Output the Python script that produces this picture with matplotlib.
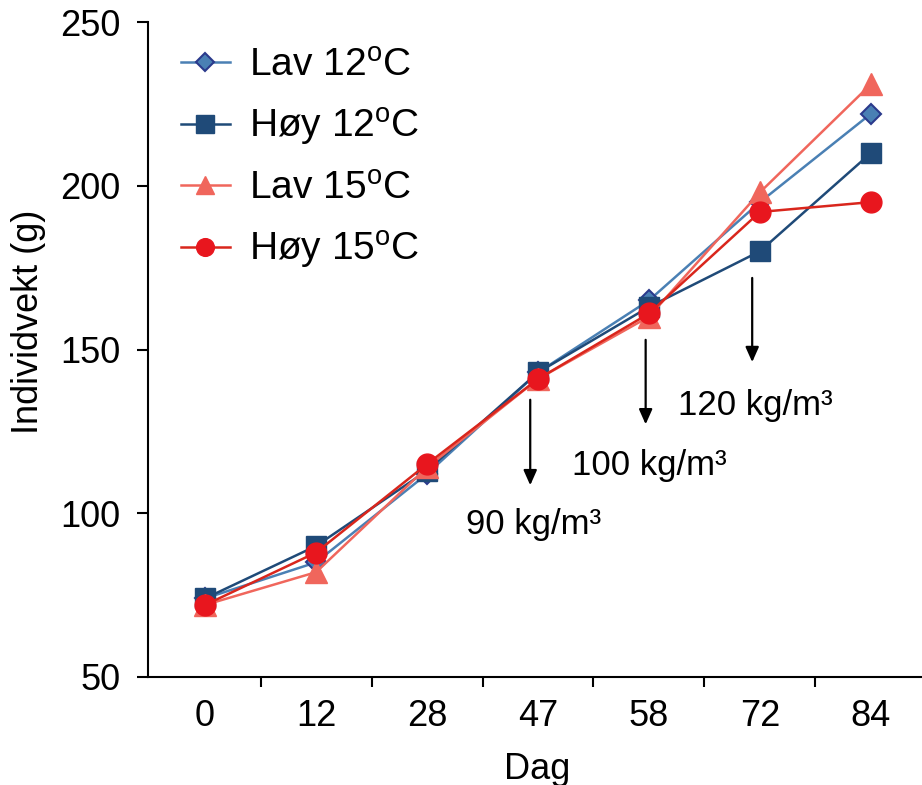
import numpy as np
import matplotlib
matplotlib.use("Agg")
import matplotlib.pyplot as plt
from matplotlib.ticker import FixedLocator

plt.rcParams['font.family'] = ['Liberation Sans', 'DejaVu Sans']
plt.rcParams['mathtext.fontset'] = 'custom'
plt.rcParams['mathtext.rm'] = 'Liberation Sans'
plt.rcParams['mathtext.it'] = 'Liberation Sans'

# Data
days = ['0', '12', '28', '47', '58', '72', '84']
lav_12 = [74, 85, 112, 143, 165, 195, 222]
hoy_12 = [74, 90, 113, 143, 163, 180, 210]
lav_15 = [72, 82, 114, 141, 160, 198, 231]
hoy_15 = [72, 88, 115, 141, 161, 192, 195]

# density notes: arrow x, arrow top, arrow bottom, label y, label
notes_x = [2.93, 3.97, 4.93]
notes_top = [135.5, 153.8, 172.7]
notes_bottom = [107.7, 126.3, 145.3]
notes_text_y = [96.7, 114.7, 133.0]
notes_labels = ['90 kg/m³', '100 kg/m³', '120 kg/m³']

x = np.arange(len(days))

fig = plt.figure(figsize=(9.22, 7.85), dpi=100)
ax = fig.add_axes([148 / 922, 108 / 785, 1 - 148 / 922, (677 - 22) / 785])

ax.plot(x, lav_12, color='#4a80b4', lw=1.8, marker='D', ms=10.5,
        mfc='#4a80b4', mec='#2b3a8c', mew=1.5, label=r'Lav 12$^{\mathrm{o}}$C')
ax.plot(x, hoy_12, color='#1f4a78', lw=1.8, marker='s', ms=15,
        mfc='#1f4a78', mec='#1f4a78', label=r'Høy 12$^{\mathrm{o}}$C')
ax.plot(x, lav_15, color='#f0665c', lw=1.8, marker='^', ms=16,
        mfc='#f0665c', mec='#f0665c', label=r'Lav 15$^{\mathrm{o}}$C')
ax.plot(x, hoy_15, color='#d9261c', lw=1.8, marker='o', ms=15,
        mfc='#e8161e', mec='#e8161e', label=r'Høy 15$^{\mathrm{o}}$C')

for xi, yt, yb, ty, lab in zip(notes_x, notes_top, notes_bottom, notes_text_y, notes_labels):
    ax.annotate('', xy=(xi, yb), xytext=(xi, yt),
                arrowprops=dict(arrowstyle='-|>,head_length=0.9,head_width=0.4',
                                color='black', lw=1.6))
    ax.text(xi + 0.03, ty, lab, ha='center', va='center', fontsize=25)

ax.set_xlim(-0.514, 6.46)
ax.set_ylim(50, 250)
ax.set_xticks(x)
ax.set_xticklabels(days)
ax.xaxis.set_minor_locator(FixedLocator(np.arange(0.5, 6.5, 1.0)))
ax.tick_params(axis='x', which='major', length=0, labelsize=26, pad=16)
ax.tick_params(axis='x', which='minor', length=7, width=1.5, direction='out')
ax.set_yticks([50, 100, 150, 200, 250])
ax.tick_params(axis='y', length=8, width=1.5, labelsize=26, pad=12)

ax.set_xlabel('Dag', fontsize=26)
ax.set_ylabel('Individvekt (g)', fontsize=26)
ax.xaxis.set_label_coords(0.5026, -0.114)
ax.yaxis.set_label_coords(-0.155, 0.542)
ax.yaxis.label.set_verticalalignment('center')

for side in ['top', 'right']:
    ax.spines[side].set_visible(False)
for side in ['left', 'bottom']:
    ax.spines[side].set_linewidth(1.5)

leg = ax.legend(loc='upper left', frameon=False, fontsize=28,
                bbox_to_anchor=(0.022, 0.985), handlelength=1.26,
                handletextpad=0.5, labelspacing=0.58, markerscale=0.85,
                borderaxespad=0)

fig.savefig('out.png', dpi=100)
